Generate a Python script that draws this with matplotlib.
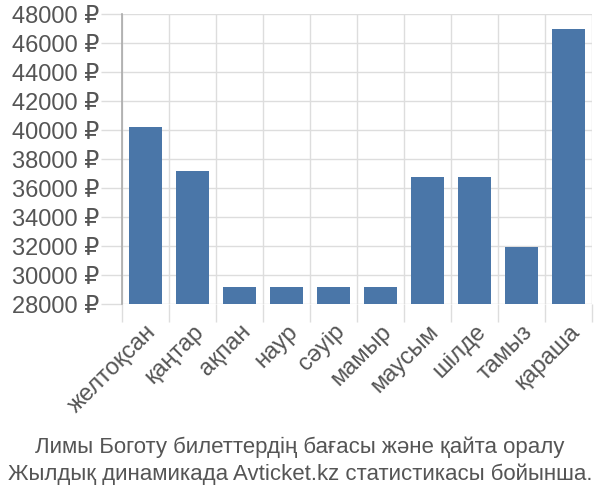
import matplotlib.pyplot as plt
import numpy as np

# =================================================
# DATA
# =================================================
months = ["желтоқсан", "қаңтар", "ақпан", "наур", "сәуір",
          "мамыр", "маусым", "шілде", "тамыз", "қараша"]
prices = [40200, 37170, 29170, 29170, 29170, 29170, 36760, 36760, 31950, 46970]
yticks = list(range(28000, 48001, 2000))

title_lines = ["Лимы Боготу билеттердің бағасы және қайта оралу",
               "Жылдық динамикада Avticket.kz статистикасы бойынша."]

# =================================================
# STYLE
# =================================================
plt.rcParams["font.family"] = ["Liberation Sans", "DejaVu Sans"]
TEXT = "#555555"
GRID = "#dddddd"
BAR = "#4a76a8"
FS = 17

fig = plt.figure(figsize=(6, 5), dpi=100)
ax = fig.add_axes([0.203, 0.392, 0.784, 0.58])

x = np.arange(len(months))
ax.bar(x, prices, width=0.7, color=BAR, zorder=3)

ax.set_xlim(-0.5, len(months) - 0.5)
ax.set_ylim(28000, 48000)
ax.set_yticks(yticks)
ax.set_yticklabels([f"{v} ₽" for v in yticks], fontsize=FS, color=TEXT)

# boundaries carry the ticks and the vertical grid
ax.set_xticks(np.arange(len(months) + 1) - 0.5)
ax.set_xticklabels([])
ax.set_xticks(x, minor=True)
ax.set_xticklabels(months, minor=True, rotation=45, ha="right", va="top",
                   rotation_mode="anchor", fontsize=FS, color=TEXT)
ax.tick_params(axis="x", which="major", length=13, color=GRID, width=1)
ax.tick_params(axis="x", which="minor", length=0, pad=12)
ax.tick_params(axis="y", length=15, color=GRID, width=1, pad=1)

ax.grid(True, which="major", color=GRID, linewidth=1, zorder=0)
for s in ["top", "right", "bottom"]:
    ax.spines[s].set_visible(False)
ax.spines["left"].set_color("#aaaaaa")
ax.spines["left"].set_linewidth(1.2)

fig.text(0.5, 0.106, title_lines[0], ha="center", va="center",
         fontsize=16, color=TEXT)
fig.text(0.5, 0.052, title_lines[1], ha="center", va="center",
         fontsize=16, color=TEXT)

fig.savefig("out.png", dpi=100)
